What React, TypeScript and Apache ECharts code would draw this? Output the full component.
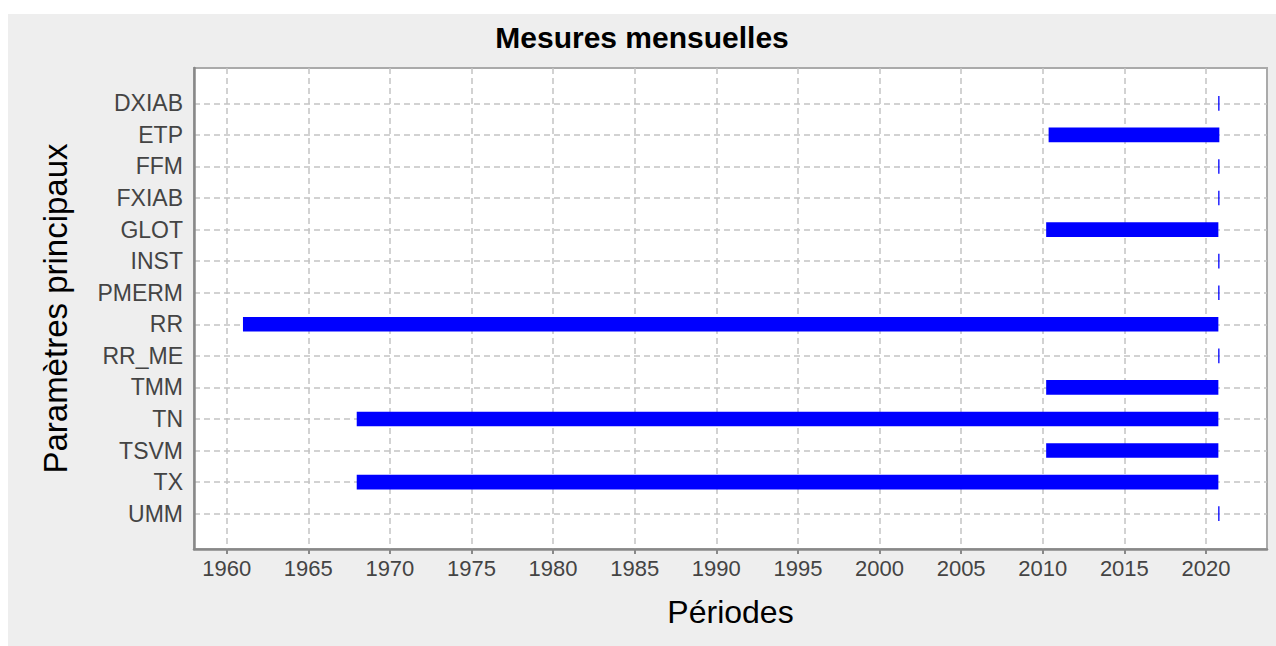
import React, { useEffect, useRef } from "react";
import * as echarts from "echarts";

const categories = ["DXIAB", "ETP", "FFM", "FXIAB", "GLOT", "INST", "PMERM", "RR", "RR_ME", "TMM", "TN", "TSVM", "TX", "UMM"];
const startYears = [2020.75, 2010.36, 2020.75, 2020.75, 2010.21, 2020.75, 2020.75, 1961.0, 2020.75, 2010.21, 1967.97, 2010.21, 1967.97, 2020.75];
const endYears = [2020.78, 2020.82, 2020.78, 2020.78, 2020.76, 2020.78, 2020.78, 2020.76, 2020.78, 2020.76, 2020.76, 2020.76, 2020.76, 2020.78];
const yearTicks = [1960, 1965, 1970, 1975, 1980, 1985, 1990, 1995, 2000, 2005, 2010, 2015, 2020];

export default function App() {
  const ref = useRef<HTMLDivElement>(null);
  useEffect(() => {
    if (!ref.current) return;
    const chart = echarts.init(ref.current, null, { renderer: "svg" });
    const catIdx = categories.map((_, i) => i);
    const data = categories.map((c, i) => [i, startYears[i], endYears[i]]);
    const font = "'Liberation Sans', Arial, sans-serif";
    chart.setOption({
      animation: false,
      backgroundColor: "#eeeeee",
      textStyle: { fontFamily: font },
      title: {
        text: "Mesures mensuelles",
        left: "center",
        top: 3,
        textStyle: { fontFamily: font, fontSize: 30, fontWeight: "bold", color: "#000" },
      },
      grid: {
        left: 186,
        top: 54,
        right: 9,
        bottom: 97,
        show: true,
        backgroundColor: "#ffffff",
        borderColor: "#aaaaaa",
        borderWidth: 2,
      },
      xAxis: {
        type: "value",
        min: 1958,
        max: 2023.74,
        name: "Périodes",
        nameLocation: "middle",
        nameGap: 47,
        nameTextStyle: { fontFamily: font, fontSize: 32, color: "#000" },
        axisLine: { show: true, onZero: false, lineStyle: { color: "#888888", width: 2.5 } },
        axisTick: { show: true, length: 5, customValues: yearTicks, lineStyle: { color: "#888888", width: 2 } },
        axisLabel: { customValues: yearTicks, fontSize: 22, color: "#444444", margin: 8, formatter: (v: number) => String(v) },
        splitLine: { show: true, lineStyle: { color: "#c4c4c4", type: [6, 4], width: 1.5 } },
      },
      yAxis: {
        type: "value",
        inverse: true,
        min: -1.12,
        max: 14.12,
        name: "Paramètres principaux",
        nameLocation: "middle",
        nameGap: 122,
        nameTextStyle: { fontFamily: font, fontSize: 33, color: "#000" },
        axisLine: { show: true, onZero: false, lineStyle: { color: "#888888", width: 2.5 } },
        axisTick: { show: true, length: 0, customValues: catIdx },
        axisLabel: {
          customValues: catIdx,
          fontSize: 23,
          color: "#444444",
          margin: 11,
          formatter: (v: number) => categories[Math.round(v)] ?? "",
        },
        splitLine: { show: true, lineStyle: { color: "#c4c4c4", type: [6, 4], width: 1.5 } },
      },
      series: [
        {
          type: "custom",
          data,
          encode: { x: [1, 2], y: 0 },
          renderItem: (params: any, api: any) => {
            const idx = api.value(0);
            const s = api.coord([api.value(1), idx]);
            const e = api.coord([api.value(2), idx]);
            const h = api.size([0, 1])[1] * 0.465;
            const w = Math.max(e[0] - s[0], 1.3);
            return {
              type: "rect",
              shape: { x: s[0], y: s[1] - h / 2, width: w, height: h },
              style: { fill: "#0000ff" },
            };
          },
        },
      ],
    });
    return () => chart.dispose();
  }, []);
  return (
    <div
      ref={ref}
      style={{ position: "absolute", left: 8, top: 14, width: 1268, height: 632 }}
    />
  );
}
